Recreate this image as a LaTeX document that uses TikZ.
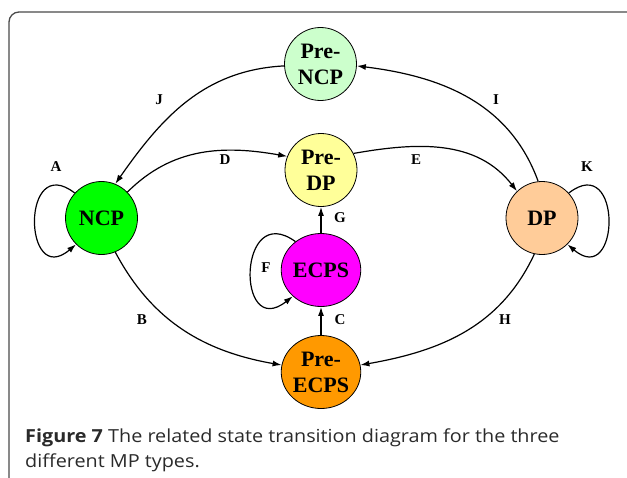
\documentclass[tikz,border=0pt]{standalone}
\usepackage{fontspec}
\setmainfont{Liberation Serif}
\newfontfamily\capfont[FakeStretch=1.1]{Open Sans}
\usetikzlibrary{shapes.geometric,arrows.meta}
\definecolor{cPncp}{HTML}{CCFFCC}
\definecolor{cPdp}{HTML}{FFFF99}
\definecolor{cNcp}{HTML}{00FF00}
\definecolor{cDp}{HTML}{FFCC99}
\definecolor{cEcps}{HTML}{FF00FF}
\definecolor{cPecps}{HTML}{FF9900}
\definecolor{framecol}{HTML}{4A4A4A}
\definecolor{capcol}{HTML}{2A2A2A}
\begin{document}
\begin{tikzpicture}[x=1pt,y=1pt,
  state/.style={ellipse, draw, line width=0.8pt, minimum width=72pt, minimum height=73pt,
    inner sep=0pt, align=center, font=\bfseries\fontsize{22}{26}\selectfont},
  lbl/.style={font=\bfseries\fontsize{15}{15}\selectfont, inner sep=0pt},
  edge/.style={line width=1.2pt, -{Latex[length=9pt,width=6pt]}},
  captxt/.style={anchor=base west, inner sep=0pt, text=capcol, font=\capfont\fontsize{18}{27}\selectfont}]
\useasboundingbox (0,0) rectangle (627,-477);
\begin{scope}
\clip (0,0) rectangle (627,-477);
\draw[framecol, line width=1.3pt, rounded corners=10pt] (9,-12) rectangle (660,-520);
\end{scope}
% nodes
\node[state, fill=cPncp] (pncp) at (320.5,-64) {Pre-\\NCP};
\node[state, fill=cPdp] (pdp) at (321,-170) {Pre-\\DP};
\node[state, fill=cNcp] (ncp) at (101.5,-218) {NCP};
\node[state, fill=cDp] (dp) at (542,-218) {DP};
\node[state, fill=cEcps] (ecps) at (321,-270) {ECPS};
\node[state, fill=cPecps] (pecps) at (321,-372) {Pre-\\ECPS};
% edges
\draw[edge] (pncp.183) to[out=183,in=55] (ncp.68);
\draw[edge] (dp.96) to[out=110,in=-7] (pncp.-3);
\draw[edge] (ncp.45) to[out=45,in=170] (pdp.158);
\draw[edge] (pdp.27) to[out=10,in=128] (dp.133);
\draw[edge] (ncp.-68) to[out=-62,in=170] (pecps.170);
\draw[edge] (dp.-102) to[out=-115,in=10] (pecps.10);
\draw[edge] (pecps) -- (ecps);
\draw[edge] (ecps) -- (pdp);
% loops
\draw[edge] (ncp.137) .. controls +(-54,42) and +(-53,-45) .. (ncp.-134);
\draw[edge] (dp.43) .. controls +(54,42) and +(53,-45) .. (dp.-46);
\draw[edge] (ecps.132) .. controls +(-58,42) and +(-57,-45) .. (ecps.-137);
% labels
\node[lbl] (lJ) at (159,-100) {J};
\node[lbl] (lI) at (496,-100) {I};
\node[lbl] (lD) at (225,-160) {D};
\node[lbl] (lE) at (416,-160) {E};
\node[lbl] (lA) at (56,-167) {A};
\node[lbl] (lK) at (587,-167) {K};
\node[lbl] (lG) at (340,-218) {G};
\node[lbl] (lF) at (266,-268) {F};
\node[lbl] (lB) at (142,-320) {B};
\node[lbl] (lC) at (340,-320) {C};
\node[lbl] (lH) at (505,-320) {H};
% caption
\node[captxt] (cap1) at (25,-442) {\textbf{Figure 7} The related state transition diagram for the three};
\node[captxt] (cap2) at (25,-467) {different MP types.};
\end{tikzpicture}
\end{document}
